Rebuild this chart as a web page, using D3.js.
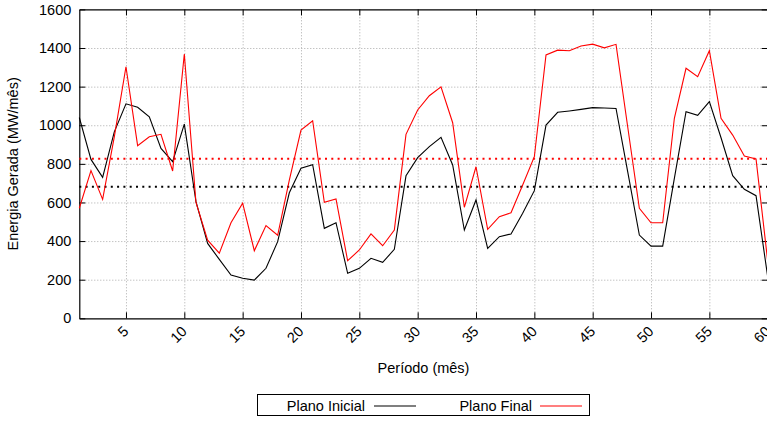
<!DOCTYPE html>
<html>
<head>
<meta charset="utf-8">
<script src="https://cdn.jsdelivr.net/npm/d3@7"></script>
<style>
  body { margin: 0; background: white; }
  text { font-family: "Liberation Sans", Arial, sans-serif; }
</style>
</head>
<body>
<div id="container"></div>
<script>
/* DATA */
const periodo = [1, 2, 3, 4, 5, 6, 7, 8, 9, 10, 11, 12, 13, 14, 15, 16, 17, 18, 19, 20,
  21, 22, 23, 24, 25, 26, 27, 28, 29, 30, 31, 32, 33, 34, 35, 36, 37, 38, 39, 40,
  41, 42, 43, 44, 45, 46, 47, 48, 49, 50, 51, 52, 53, 54, 55, 56, 57, 58, 59, 60];

const planoInicial = [1040, 823, 730, 966, 1111, 1093, 1044, 880, 811, 1006,
  604, 388, 305, 224, 207, 198, 259, 397, 650, 777,
  796, 466, 495, 233, 259, 311, 290, 357, 738, 832,
  889, 937, 794, 457, 613, 362, 423, 437, 544, 661,
  1001, 1067, 1074, 1082, 1091, 1089, 1087, 760, 431, 374,
  374, 725, 1070, 1051, 1122, 935, 739, 668, 635, 215];

const planoFinal = [570, 765, 616, 940, 1303, 894, 940, 953, 763, 1369,
  600, 405, 337, 495, 596, 350, 480, 430, 716, 975,
  1023, 601, 618, 298, 354, 437, 376, 457, 953, 1079,
  1153, 1199, 1013, 575, 785, 461, 526, 547, 690, 837,
  1364, 1389, 1386, 1410, 1420, 1401, 1419, 992, 570, 495,
  495, 1036, 1295, 1251, 1386, 1036, 949, 840, 825, 295];

// horizontal reference levels (dotted lines)
const mediaInicial = 682;
const mediaFinal = 826;

const xTicks = [5, 10, 15, 20, 25, 30, 35, 40, 45, 50, 55, 60];
const yTicks = [0, 200, 400, 600, 800, 1000, 1200, 1400, 1600];

/* CONSTANTS */
const width = 767, height = 423;
const margin = { top: 9.4, right: -0.7, bottom: 104.7, left: 79.3 };

/* SCALES */
const xScale = d3.scaleLinear()
  .domain([1, 60])
  .range([margin.left, width - margin.right]);

const yScale = d3.scaleLinear()
  .domain([0, 1600])
  .range([height - margin.bottom, margin.top]);

const svg = d3.select("#container")
  .append("svg")
  .attr("width", width)
  .attr("height", height);

const plotH = height - margin.bottom - margin.top;
const plotW = width - margin.right - margin.left;

//grid lines, gray dotted
svg.append("g")
  .attr("transform", `translate(0,${height - margin.bottom})`)
  .call(d3.axisBottom(xScale).tickValues(xTicks.slice(0, -1)).tickSize(-plotH).tickFormat(""))
  .call(g => g.select(".domain").remove())
  .selectAll("line")
  .attr("stroke", "#aaa")
  .attr("stroke-dasharray", "1,2");

svg.append("g")
  .attr("transform", `translate(${margin.left},0)`)
  .call(d3.axisLeft(yScale).tickValues(yTicks.slice(1, -1)).tickSize(-plotW).tickFormat(""))
  .call(g => g.select(".domain").remove())
  .selectAll("line")
  .attr("stroke", "#aaa")
  .attr("stroke-dasharray", "1,2");

//axes, ticks point inward and are mirrored
const xAxis = svg.append("g")
  .attr("transform", `translate(0,${height - margin.bottom})`)
  .call(d3.axisBottom(xScale).tickValues(xTicks).tickSizeInner(-6).tickSizeOuter(0).tickPadding(0));

xAxis.selectAll("text")
  .attr("font-size", 14.5)
  .attr("fill", "black")
  .attr("text-anchor", "end")
  .attr("transform", "translate(3,14) rotate(-45)")
  .attr("dy", 0)
  .attr("y", 0);

svg.append("g")
  .attr("transform", `translate(0,${margin.top})`)
  .call(d3.axisTop(xScale).tickValues(xTicks).tickSizeInner(-6).tickSizeOuter(0).tickFormat(""));

svg.append("g")
  .attr("transform", `translate(${margin.left},0)`)
  .call(d3.axisLeft(yScale).tickValues(yTicks).tickFormat(d3.format("d"))
    .tickSizeInner(-6).tickSizeOuter(0).tickPadding(8))
  .selectAll("text")
  .attr("font-size", 14.5)
  .attr("fill", "black");

svg.append("g")
  .attr("transform", `translate(${width - margin.right},0)`)
  .call(d3.axisRight(yScale).tickValues(yTicks).tickSizeInner(-6).tickSizeOuter(0).tickFormat(""));

svg.selectAll(".domain").attr("stroke-width", 1.2);

//reference lines
svg.append("line")
  .attr("x1", xScale(1)).attr("x2", xScale(60))
  .attr("y1", yScale(mediaFinal)).attr("y2", yScale(mediaFinal))
  .attr("stroke", "#ff0000")
  .attr("stroke-width", 2)
  .attr("stroke-dasharray", "2,4.3");

svg.append("line")
  .attr("x1", xScale(1)).attr("x2", xScale(60))
  .attr("y1", yScale(mediaInicial)).attr("y2", yScale(mediaInicial))
  .attr("stroke", "black")
  .attr("stroke-width", 2)
  .attr("stroke-dasharray", "2,4.3");

//series lines
const line = d3.line()
  .x(d => xScale(d[0]))
  .y(d => yScale(d[1]));

svg.append("path")
  .datum(periodo.map((p, i) => [p, planoInicial[i]]))
  .attr("fill", "none")
  .attr("stroke", "black")
  .attr("stroke-width", 1.1)
  .attr("d", line);

svg.append("path")
  .datum(periodo.map((p, i) => [p, planoFinal[i]]))
  .attr("fill", "none")
  .attr("stroke", "#ff0000")
  .attr("stroke-width", 1.1)
  .attr("d", line);

//axis titles
svg.append("text")
  .attr("x", (margin.left + width - margin.right) / 2)
  .attr("y", 373)
  .attr("text-anchor", "middle")
  .attr("font-size", 14.5)
  .text("Período (mês)");

svg.append("text")
  .attr("transform", `translate(17.5,${margin.top + plotH / 2}) rotate(-90)`)
  .attr("text-anchor", "middle")
  .attr("font-size", 14.5)
  .text("Energia Gerada (MW/mês)");

//legend
const legend = svg.append("g");
legend.append("rect")
  .attr("x", 257.5).attr("y", 394.5)
  .attr("width", 332).attr("height", 21)
  .attr("fill", "none")
  .attr("stroke", "black");

const items = [
  { name: "Plano Inicial", color: "black", tx: 365, lx: 374 },
  { name: "Plano Final", color: "#ff0000", tx: 532, lx: 540 }
];
items.forEach(it => {
  legend.append("text")
    .attr("x", it.tx).attr("y", 411)
    .attr("text-anchor", "end")
    .attr("font-size", 14.5)
    .text(it.name);
  legend.append("line")
    .attr("x1", it.lx).attr("x2", it.lx + 42)
    .attr("y1", 406).attr("y2", 406)
    .attr("stroke", it.color)
    .attr("stroke-width", 1.1);
});
</script>
</body>
</html>
